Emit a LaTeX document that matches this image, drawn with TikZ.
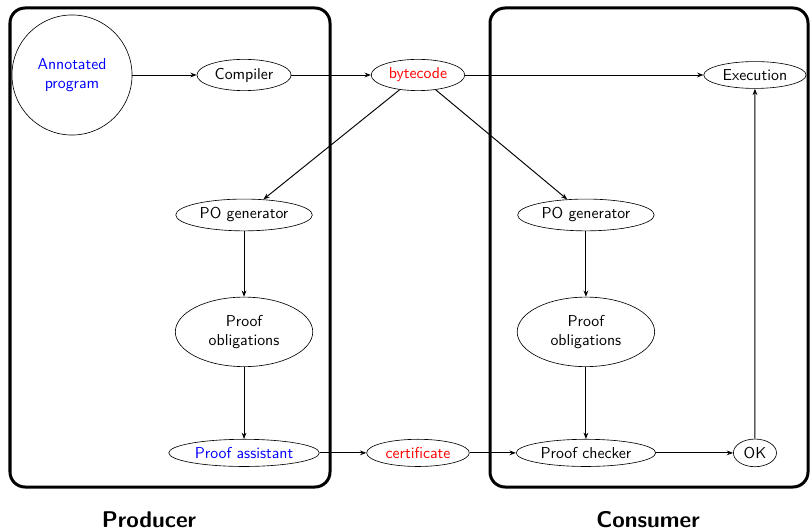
\documentclass[tikz,border=0pt]{standalone}
\usetikzlibrary{shapes,arrows.meta,positioning}

\begin{document}
\begin{tikzpicture}[x=0.633pt, y=-0.633pt, on grid,
    every node/.style={font=\sffamily},
    elli/.style={ellipse, draw, inner sep=2.5pt},
    arr/.style={-{Stealth[length=4pt,width=3pt]}, semithick},
    frame/.style={draw, line width=1.9pt, rounded corners=9.5pt}]

    \useasboundingbox (0,0) rectangle (812,530);

    %-----Frames-----
    % Producer side
    \draw [frame] (10,8) rectangle (330,487);
    % Consumer side
    \draw [frame] (490,8) rectangle (808,487);

    %-----Nodes-----
    % Annotated program
    \node [circle, draw, minimum size=76pt, align=center, text=blue] (prog) at (72,75) {%
        Annotated\\program
    };

    % Compiler
    \node [elli, right=108.9pt of prog] (comp) {Compiler};

    % Bytecode
    \node [elli, right=110.1pt of comp, text=red] (bcode) {bytecode};

    % Execution
    \node [elli, right=213.3pt of bcode] (exec) {Execution};

    % PO generators
    \node [elli, below=88.6pt of comp] (pogl) {PO generator};
    \node [elli, right=216.4pt of pogl] (pogr) {PO generator};

    % Proof obligations
    \node [elli, minimum width=87pt, minimum height=44pt, align=center, below=74pt of pogl] (pobl) {%
        Proof\\obligations
    };
    \node [elli, minimum width=87pt, minimum height=44pt, align=center, below=74pt of pogr] (pobr) {%
        Proof\\obligations
    };

    % Proof assistant
    \node [elli, below=76.6pt of pobl, text=blue] (passt) {Proof assistant};

    % Certificate
    \node [elli, right=110.1pt of passt, text=red] (cert) {certificate};

    % Proof checker
    \node [elli, below=76.6pt of pobr] (pchk) {Proof checker};

    % OK
    \node [elli, right=107pt of pchk] (ok) {OK};

    % Captions
    \node [font=\sffamily\bfseries\Large] (prod) at (149,520) {Producer};
    \node [font=\sffamily\bfseries\Large] (cons) at (648,520) {Consumer};

    %-----Arrows-----
    \draw [arr] (prog) -- (comp);
    \draw [arr] (comp) -- (bcode);
    \draw [arr] (bcode) -- (exec);
    \draw [arr] (bcode) -- (pogl);
    \draw [arr] (bcode) -- (pogr);
    \draw [arr] (pogl) -- (pobl);
    \draw [arr] (pogr) -- (pobr);
    \draw [arr] (pobl) -- (passt);
    \draw [arr] (pobr) -- (pchk);
    \draw [arr] (passt) -- (cert);
    \draw [arr] (cert) -- (pchk);
    \draw [arr] (pchk) -- (ok);
    \draw [arr] (ok) -- (exec);

\end{tikzpicture}
\end{document}
